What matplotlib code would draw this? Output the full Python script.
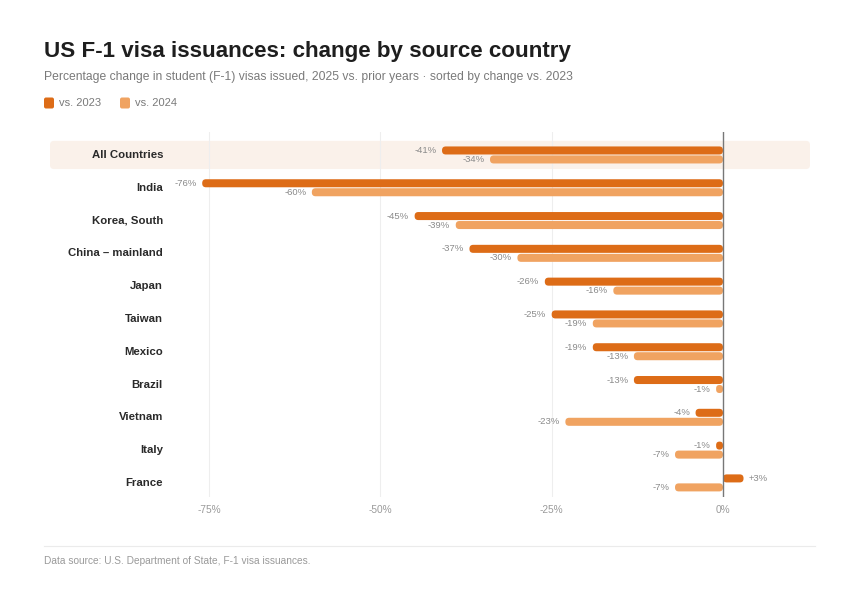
import matplotlib
matplotlib.use("Agg")
import matplotlib.pyplot as plt
from matplotlib.patches import FancyBboxPatch
from matplotlib.transforms import blended_transform_factory
import numpy as np

plt.rcParams['font.family'] = ['Liberation Sans', 'DejaVu Sans']

countries = ["All Countries", "India", "Korea, South", "China – mainland", "Japan",
             "Taiwan", "Mexico", "Brazil", "Vietnam", "Italy", "France"]
vs_2023 = [-41, -76, -45, -37, -26, -25, -19, -13, -4, -1, 3]
vs_2024 = [-34, -60, -39, -30, -16, -19, -13, -1, -23, -7, -7]
series_names = ["vs. 2023", "vs. 2024"]
xticks = [-75, -50, -25, 0]
xtick_labels = ["-75%", "-50%", "-25%", "0%"]

DARK = "#DD6C17"
LIGHT = "#F0A361"
BAND = "#FAF1EA"

W, H = 860, 601
fig = plt.figure(figsize=(W / 100, H / 100), dpi=100)
fig.patch.set_facecolor("white")

ax_l, ax_r, ax_t, ax_b = 170, 810, 132, 497
ax = fig.add_axes([ax_l / W, 1 - ax_b / H, (ax_r - ax_l) / W, (ax_b - ax_t) / H])
ax.set_facecolor("none")

XMIN, XMAX = -80.7, 12.7
YTOP, YBOT = -0.7, len(countries) - 1 + 0.43
y = np.arange(len(countries))
off = 0.137
bh = 0.245
ax.set_xlim(XMIN, XMAX)
ax.set_ylim(YBOT, YTOP)

px_per_x = (ax_r - ax_l) / (XMAX - XMIN)
px_per_y = (ax_b - ax_t) / (YBOT - YTOP)
aspect = px_per_x / px_per_y

# highlight band for first row (x in figure fraction, y in data)
trans = blended_transform_factory(fig.transFigure, ax.transData)
band_aspect = W / px_per_y
band = FancyBboxPatch((50 / W, -0.43), (810 - 50) / W, 0.86,
                      boxstyle=f"round,pad=0,rounding_size={4 / W}",
                      mutation_aspect=band_aspect,
                      transform=trans, facecolor=BAND, edgecolor="none",
                      clip_on=False, zorder=0)
ax.add_patch(band)

# gridlines
for t in xticks[:-1]:
    ax.axvline(t, color="#EEEEEE", lw=0.8, zorder=1)
ax.axvline(0, color="#777777", lw=1.0, zorder=4)


def rounded_bars(vals, ypos, color):
    bars = ax.barh(ypos, vals, height=bh, color=color, zorder=3)
    for p in bars.patches:
        x0, y0, w, h = p.get_x(), p.get_y(), p.get_width(), p.get_height()
        if w < 0:
            x0, w = x0 + w, -w
        r = min(0.55, w / 2)
        fb = FancyBboxPatch((x0, y0), w, h,
                            boxstyle=f"round,pad=0,rounding_size={r}",
                            mutation_aspect=aspect,
                            facecolor=color, edgecolor="none", zorder=3)
        ax.add_patch(fb)
        p.set_visible(False)
    return bars


rounded_bars(vs_2023, y - off, DARK)
rounded_bars(vs_2024, y + off, LIGHT)


def fmt(v):
    return f"+{v}%" if v > 0 else f"{v}%"


for vals, yy in ((vs_2023, y - off), (vs_2024, y + off)):
    for v, yi in zip(vals, yy):
        ha = "left" if v > 0 else "right"
        dx = 4 if v > 0 else -4
        ax.annotate(fmt(v), (v, yi), xytext=(dx, 0), textcoords="offset points",
                    ha=ha, va="center", fontsize=6.8, color="#8A8A8A", zorder=5)

# category labels
for c, yi in zip(countries, y):
    ax.text(163 / W, yi, c, transform=trans, ha="right", va="center",
            fontsize=8.2, fontweight="bold", color="#2A2A2A")

ax.set_xticks(xticks)
ax.set_xticklabels(xtick_labels, fontsize=7.3, color="#9A9A9A")
ax.tick_params(axis="x", length=0, pad=6)
ax.set_yticks([])
for s in ax.spines.values():
    s.set_visible(False)

# titles
fig.text(44 / W, 1 - 52 / H, "US F-1 visa issuances: change by source country",
         fontsize=16.1, fontweight="bold", color="#1E1E1E", ha="left", va="center")
fig.text(44 / W, 1 - 77 / H,
         "Percentage change in student (F-1) visas issued, 2025 vs. prior years · sorted by change vs. 2023",
         fontsize=8.78, color="#7A7A7A", ha="left", va="center")

# legend
for i, (name, col) in enumerate(zip(series_names, [DARK, LIGHT])):
    x0 = (44 + i * 76) / W
    fig.patches.append(FancyBboxPatch((x0, 1 - 108.5 / H), 10 / W, 11 / H,
                                      boxstyle=f"round,pad=0,rounding_size={2 / W}",
                                      mutation_aspect=W / H,
                                      transform=fig.transFigure, facecolor=col,
                                      edgecolor="none"))
    fig.text(x0 + 15 / W, 1 - 103 / H, name, fontsize=8.0, color="#7A7A7A",
             ha="left", va="center")

# footer
fig.add_artist(plt.Line2D([44 / W, 815 / W], [1 - 546 / H, 1 - 546 / H],
                          transform=fig.transFigure, color="#EBEBEB", lw=0.8))
fig.text(44 / W, 1 - 561 / H, "Data source: U.S. Department of State, F-1 visa issuances.",
         fontsize=7.3, color="#9A9A9A", ha="left", va="center")

fig.savefig("out.png", dpi=100)
